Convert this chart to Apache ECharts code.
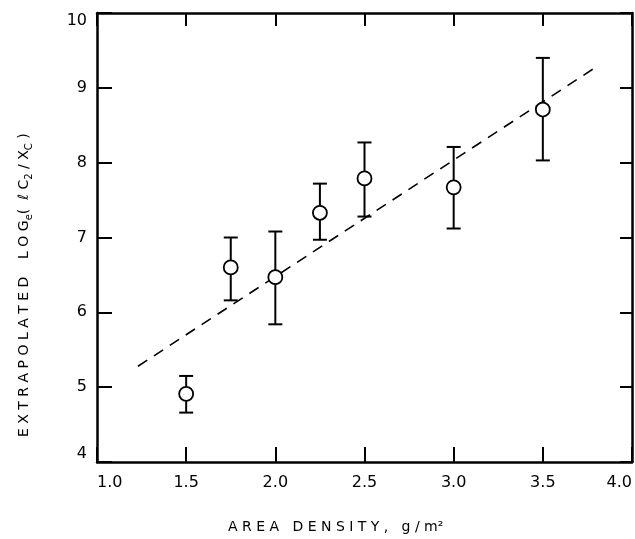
<!DOCTYPE html>
<html>
<head>
<meta charset="utf-8">
<script src="https://cdn.jsdelivr.net/npm/echarts@6/dist/echarts.min.js"></script>
<style>
  html, body { margin: 0; padding: 0; background: #fff; }
  #chart { width: 635px; height: 539px; }
</style>
</head>
<body>
<div id="chart"></div>
<script>
var areaDensity = [1.5, 1.75, 2.0, 2.25, 2.5, 3.0, 3.5]
var logValue = [4.91, 6.6, 6.47, 7.33, 7.79, 7.67, 8.71]
var errLow = [4.66, 6.16, 5.84, 6.97, 7.28, 7.12, 8.03]
var errHigh = [5.15, 7.0, 7.08, 7.72, 8.27, 8.21, 9.4]
// dashed fit line end points
var fitX = [1.23, 3.8]
var fitY = [5.28, 9.28]

var font = 'DejaVu Sans'

var chart = echarts.init(document.getElementById('chart'))

var points = areaDensity.map(function(x, i) { return [x, logValue[i]] })
var bars = areaDensity.map(function(x, i) { return [x, errLow[i], errHigh[i]] })
var fit = fitX.map(function(x, i) { return [x, fitY[i]] })

var tickCommon = {
  show: true,
  inside: true,
  lineStyle: { color: '#000', width: 2 }
}

chart.setOption({
  backgroundColor: '#fff',
  animation: false,
  grid: {
    left: 97,
    right: 3,
    top: 13,
    bottom: 77,
    outerBoundsMode: 'none'
  },
  xAxis: [{
    type: 'value',
    min: 1,
    max: 4,
    interval: 0.5,
    axisLine: { show: true, lineStyle: { color: '#000', width: 2.5 } },
    axisTick: Object.assign({ length: 15 }, tickCommon),
    axisLabel: {
      margin: 13,
      color: '#000',
      fontFamily: font,
      fontSize: 16,
      alignMinLabel: 'left',
      alignMaxLabel: 'right',
      formatter: function(v) { return v.toFixed(1) }
    },
    splitLine: { show: false }
  }, {
    type: 'value',
    position: 'top',
    min: 1,
    max: 4,
    interval: 0.5,
    axisLine: { show: true, lineStyle: { color: '#000', width: 2.5 } },
    axisTick: Object.assign({ length: 13 }, tickCommon),
    axisLabel: { show: false },
    splitLine: { show: false }
  }],
  yAxis: [{
    type: 'value',
    min: 4,
    max: 10,
    interval: 1,
    axisLine: { show: true, lineStyle: { color: '#000', width: 2.5 } },
    axisTick: Object.assign({ length: 15 }, tickCommon),
    axisLabel: {
      margin: 10,
      color: '#000',
      fontFamily: font,
      fontSize: 16,
      verticalAlignMinLabel: 'bottom',
      verticalAlignMaxLabel: 'top'
    },
    splitLine: { show: false }
  }, {
    type: 'value',
    position: 'right',
    min: 4,
    max: 10,
    interval: 1,
    axisLine: { show: true, lineStyle: { color: '#000', width: 2.5 } },
    axisTick: Object.assign({ length: 12 }, tickCommon),
    axisLabel: { show: false },
    splitLine: { show: false }
  }],
  graphic: [{
    type: 'text',
    left: 228,
    top: 520,
    style: {
      text: 'A R E A   D E N S I T Y ,   g / m²',
      fill: '#000',
      font: '14px "DejaVu Sans"'
    }
  }, {
    type: 'text',
    x: 14,
    y: 437,
    rotation: Math.PI / 2,
    style: {
      text: '{n|E X T R A P O L A T E D    L O G}{s|e}{n|(  ℓ C}{s|2}{n| / X}{s|C}{n| )}',
      fill: '#000',
      rich: {
        n: { fontFamily: font, fontSize: 14, fill: '#000', lineHeight: 20, verticalAlign: 'middle' },
        s: { fontFamily: font, fontSize: 10, fill: '#000', lineHeight: 20, verticalAlign: 'bottom' }
      }
    }
  }],
  series: [{
    type: 'line',
    data: fit,
    symbol: 'none',
    lineStyle: { color: '#000', width: 1.6, type: [11, 8] },
    z: 2
  }, {
    type: 'custom',
    data: bars,
    z: 3,
    renderItem: function(params, api) {
      var x = api.value(0)
      var lo = api.coord([x, api.value(1)])
      var hi = api.coord([x, api.value(2)])
      var cap = 7
      var style = { stroke: '#000', lineWidth: 2 }
      return {
        type: 'group',
        children: [
          { type: 'line', shape: { x1: lo[0], y1: lo[1], x2: hi[0], y2: hi[1] }, style: style },
          { type: 'line', shape: { x1: lo[0] - cap, y1: lo[1], x2: lo[0] + cap, y2: lo[1] }, style: style },
          { type: 'line', shape: { x1: hi[0] - cap, y1: hi[1], x2: hi[0] + cap, y2: hi[1] }, style: style }
        ]
      }
    }
  }, {
    type: 'scatter',
    data: points,
    symbol: 'circle',
    symbolSize: 14,
    itemStyle: { color: '#fff', borderColor: '#000', borderWidth: 1.8, opacity: 1 },
    z: 4
  }]
})
</script>
</body>
</html>
